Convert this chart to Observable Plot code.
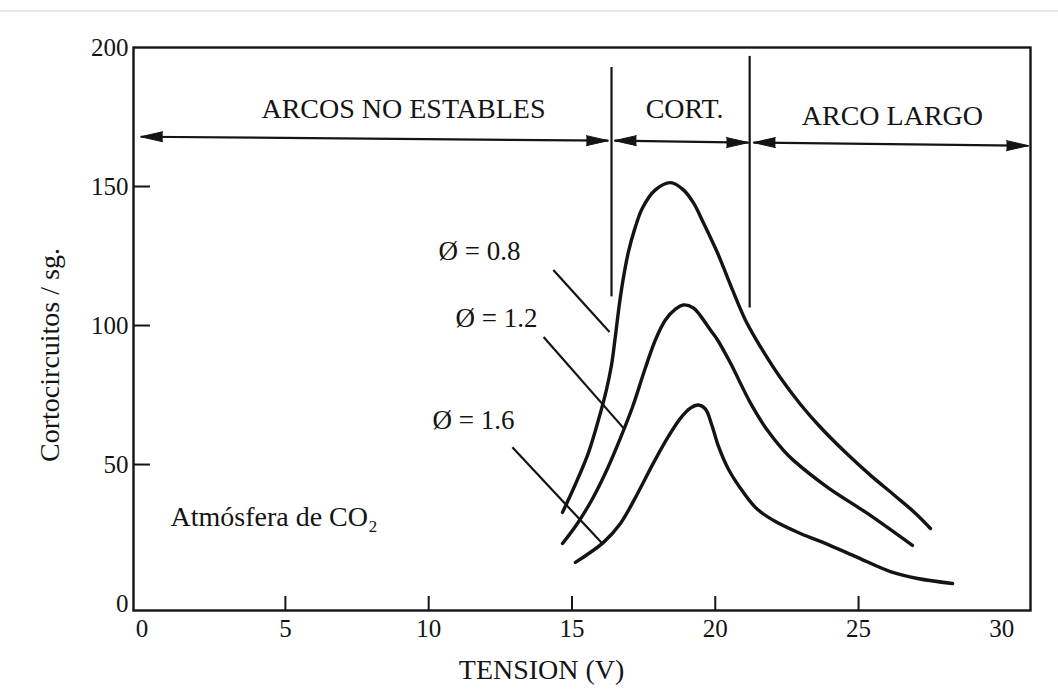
<!DOCTYPE html>
<html>
<head>
<meta charset="utf-8">
<script src="https://cdn.jsdelivr.net/npm/d3@7"></script>
<script src="https://cdn.jsdelivr.net/npm/@observablehq/plot@0.6"></script>
<style>
  body { margin: 0; background: #fff; }
  #chart { position: absolute; left: 0; top: 0; }
  #topline { position: absolute; left: 0; top: 10px; width: 1058px; height: 2px; background: #e8e8e8; }
</style>
</head>
<body>
<div id="chart"></div>
<div id="topline"></div>
<script>
// ---- axis ticks ----
const xTickValues = [0, 5, 10, 15, 20, 25, 30];
const xTickMarks = [5, 10, 15, 20, 25];
const yTickValues = [0, 50, 100, 150, 200];
const yTickMarks = [50, 100, 150];

// ---- curves: short circuits per second vs voltage, per wire diameter ----
const diameters = ["0.8", "1.2", "1.6"];
const volts08 = [14.67, 15.12, 15.58, 15.92, 16.20, 16.38, 16.52, 16.66, 16.80, 16.97, 17.18, 17.46, 17.91, 18.44, 18.89, 19.24, 19.59, 20.08, 20.53, 21.05, 21.58, 22.28, 22.97, 23.67, 24.54, 25.42, 26.29, 26.99, 27.51];
const rate08  = [32.8, 42.9, 54.4, 65.9, 76.8, 85.8, 96.6, 108.1, 117.5, 126.5, 134.4, 142.3, 148.8, 151.4, 148.8, 144.1, 136.9, 126.1, 114.6, 102.0, 92.3, 81.1, 71.7, 63.4, 54.4, 46.1, 38.6, 32.4, 27.0];
const volts12 = [14.67, 15.19, 15.72, 16.24, 16.69, 17.11, 17.56, 17.91, 18.26, 18.61, 18.89, 19.24, 19.49, 19.83, 20.08, 20.53, 21.23, 21.82, 22.38, 22.73, 23.92, 25.31, 26.88];
const rate12  = [21.6, 28.8, 37.8, 48.6, 59.5, 70.6, 84.7, 94.8, 102.0, 105.9, 107.4, 106.3, 103.4, 98.4, 94.8, 86.5, 72.1, 62.3, 55.1, 51.5, 41.8, 32.4, 20.9];
const volts16 = [15.12, 16.10, 16.69, 17.29, 17.84, 18.37, 18.79, 19.13, 19.41, 19.66, 19.87, 20.11, 20.46, 20.98, 21.47, 22.10, 22.97, 23.92, 24.96, 26.11, 27.06, 28.28];
const rate16  = [14.8, 22.0, 28.8, 39.6, 50.5, 60.2, 66.7, 70.3, 71.4, 69.9, 64.5, 56.6, 48.3, 40.0, 33.9, 29.5, 25.2, 21.3, 16.6, 11.5, 9.0, 7.2];

// ---- diameter labels and leader lines ----
const diamLabels = ["Ø = 0.8", "Ø = 1.2", "Ø = 1.6"];
const diamLabelX = [10.34, 10.94, 10.13];
const diamLabelY = [126.5, 102.7, 65.9];
const leaderX1 = [14.35, 14.01, 12.92];
const leaderY1 = [120.0, 95.9, 56.2];
const leaderX2 = [16.31, 16.80, 16.06];
const leaderY2 = [97.7, 63.1, 21.6];

// ---- arc regions ----
const regionNames = ["ARCOS NO ESTABLES", "CORT.", "ARCO LARGO"];
const regionStart = [-0.05, 16.48, 21.33];
const regionEnd = [16.27, 21.16, 30.93];
const regionYStart = [167.9, 166.5, 165.8];
const regionYEnd = [166.5, 165.8, 164.7];
const regionLabelX = [9.12, 18.93, 26.18];
const regionLabelY = [177.7, 177.7, 175.5];
const boundaryX = [16.38, 21.2];
const boundaryTop = [192.8, 196.8];
const boundaryBottom = [110.3, 106.3];

// ---- other texts ----
const xTitle = "TENSION (V)";
const xTitlePos = 13.94;
const yTitle = "Cortocircuitos / sg.";
const yTitlePos = 89.4;
const noteText = "Atmósfera de CO₂";
const notePos = [0.99, 31.0];

// build tables
const series = [[volts08, rate08], [volts12, rate12], [volts16, rate16]];
const lineData = series.flatMap(([xs, ys], k) => xs.map((x, i) => ({d: diameters[k], x, y: ys[i]})));
const leaders = diameters.map((d, i) => ({x1: leaderX1[i], y1: leaderY1[i], x2: leaderX2[i], y2: leaderY2[i]}));
const labels = diamLabels.map((t, i) => ({t, x: diamLabelX[i], y: diamLabelY[i]}));
const segments = regionNames.map((n, i) => ({x1: regionStart[i], x2: regionEnd[i], y1: regionYStart[i], y2: regionYEnd[i]}));
const heads = regionNames.flatMap((n, i) => [
  {x: regionStart[i], y: regionYStart[i], rotate: -90},
  {x: regionEnd[i], y: regionYEnd[i], rotate: 90}
]);
const regionText = regionNames.map((t, i) => ({t, x: regionLabelX[i], y: regionLabelY[i]}));
const boundaries = boundaryX.map((x, i) => ({x, y1: boundaryBottom[i], y2: boundaryTop[i]}));

const ink = "#141414";
const chart = Plot.plot({
  width: 1058,
  height: 696,
  marginLeft: 133,
  marginRight: 28,
  marginTop: 47,
  marginBottom: 86,
  style: {fontFamily: "'Liberation Serif', 'Times New Roman', serif", fontSize: "25px", background: "#fff", color: ink},
  x: {domain: [-0.3, 31]},
  y: {domain: [-2.5, 200]},
  marks: [
    Plot.frame({stroke: ink, strokeWidth: 2.4}),
    Plot.axisX(xTickValues, {tickSize: 0, tickPadding: 9, fontSize: 25, label: null}),
    Plot.axisY(yTickValues, {tickSize: 0, tickPadding: 5, fontSize: 25, label: null}),
    Plot.tickX(xTickMarks, {x: d => d, insetTop: 549, stroke: ink, strokeWidth: 2}),
    Plot.tickY(yTickMarks, {y: d => d, insetRight: 880, stroke: ink, strokeWidth: 2}),
    Plot.ruleX(boundaries, {x: "x", y1: "y1", y2: "y2", stroke: ink, strokeWidth: 2.2}),
    Plot.link(segments, {x1: "x1", x2: "x2", y1: "y1", y2: "y2", stroke: ink, strokeWidth: 2.2}),
    Plot.vector(heads, {x: "x", y: "y", rotate: "rotate", length: 22, r: 5, shape: "spike", anchor: "end", fill: ink, stroke: ink, strokeWidth: 1}),
    Plot.text(regionText, {x: "x", y: "y", text: "t", fontSize: 28, fill: ink}),
    Plot.line(lineData, {x: "x", y: "y", z: "d", curve: "catmull-rom", stroke: ink, strokeWidth: 3.4}),
    Plot.link(leaders, {x1: "x1", y1: "y1", x2: "x2", y2: "y2", stroke: ink, strokeWidth: 2.2}),
    Plot.text(labels, {x: "x", y: "y", text: "t", textAnchor: "start", fontSize: 27, fill: ink}),
    Plot.text([noteText], {x: notePos[0], y: notePos[1], text: d => d, textAnchor: "start", fontSize: 28, fill: ink}),
    Plot.text([xTitle], {x: xTitlePos, frameAnchor: "bottom", dy: 68, text: d => d, fontSize: 28, fill: ink}),
    Plot.text([yTitle], {y: yTitlePos, frameAnchor: "left", dx: -83, rotate: -90, textAnchor: "middle", text: d => d, fontSize: 28, fill: ink})
  ]
});
document.getElementById("chart").appendChild(chart);
</script>
</body>
</html>
